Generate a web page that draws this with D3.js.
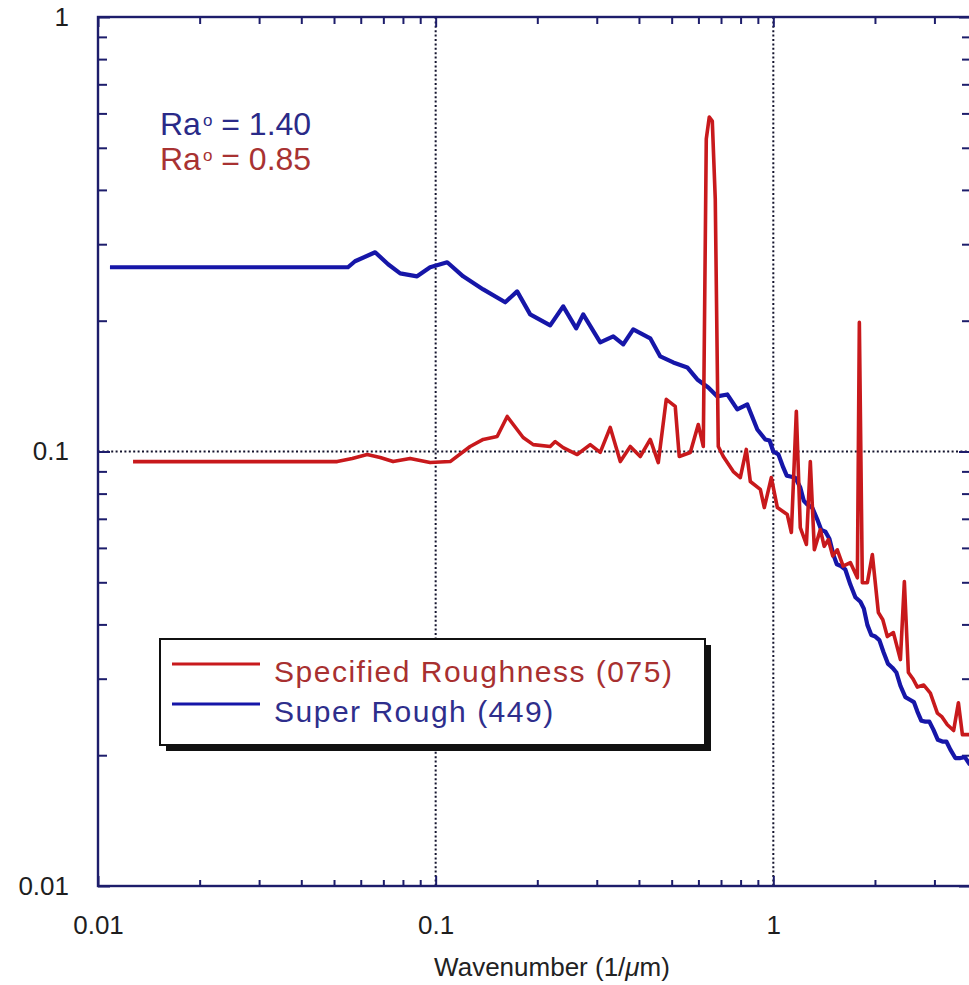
<!DOCTYPE html>
<html>
<head>
<meta charset="utf-8">
<script src="https://cdn.jsdelivr.net/npm/d3@7"></script>
<style>
  html, body { margin: 0; padding: 0; background: #fff; }
  svg { display: block; font-family: "Liberation Sans", Arial, Helvetica, sans-serif; }
</style>
</head>
<body>
<div id="chart"></div>
<script>
// [wavenumber (1/um), amplitude]
const superRough = [
  [0.01085, 0.2655], [0.0550, 0.2655], [0.0577, 0.2741], [0.0662, 0.2874], [0.0723, 0.2698],
  [0.0785, 0.2571], [0.0881, 0.2530], [0.0963, 0.2655], [0.1082, 0.2726], [0.1206, 0.2530],
  [0.1383, 0.2361], [0.1607, 0.2205], [0.1743, 0.2336], [0.1905, 0.2068], [0.2184, 0.1951],
  [0.2386, 0.2158], [0.2608, 0.1920], [0.2735, 0.2068], [0.3072, 0.1783], [0.3357, 0.1841],
  [0.3594, 0.1764], [0.3847, 0.1910], [0.4320, 0.1822], [0.4626, 0.1655], [0.5054, 0.1603],
  [0.5562, 0.1561], [0.5955, 0.1465], [0.6418, 0.1404], [0.6824, 0.1339], [0.7306, 0.1353],
  [0.7822, 0.1250], [0.8375, 0.1283], [0.8967, 0.1124], [0.9469, 0.1066], [0.975, 0.1060],
  [1.0, 0.1], [1.035, 0.0985], [1.070, 0.0919], [1.096, 0.0880], [1.123, 0.0876],
  [1.162, 0.0870], [1.202, 0.0826], [1.231, 0.0770], [1.261, 0.0755], [1.305, 0.0742],
  [1.350, 0.0697], [1.387, 0.0660], [1.426, 0.0654], [1.466, 0.0630], [1.506, 0.0579],
  [1.542, 0.0550], [1.579, 0.0546], [1.634, 0.0535], [1.691, 0.0494], [1.750, 0.0462],
  [1.811, 0.0451], [1.854, 0.0435], [1.899, 0.0399], [1.951, 0.0378], [2.005, 0.0375],
  [2.061, 0.0368], [2.118, 0.0346], [2.184, 0.0325], [2.252, 0.0318], [2.315, 0.0310],
  [2.379, 0.0289], [2.461, 0.0272], [2.546, 0.0268], [2.608, 0.0265], [2.671, 0.0252],
  [2.745, 0.0240], [2.820, 0.0239], [2.898, 0.0239], [2.979, 0.0229], [3.071, 0.0217],
  [3.167, 0.0215], [3.255, 0.0215], [3.345, 0.0206], [3.460, 0.0197], [3.582, 0.0197],
  [3.692, 0.0198], [3.808, 0.0191], [4.105, 0.0185]
];

const specifiedRoughness = [
  [0.0127, 0.0948], [0.0511, 0.0948], [0.0566, 0.0964], [0.0627, 0.0984], [0.0685, 0.0969],
  [0.0748, 0.0948], [0.0840, 0.0964], [0.0963, 0.0943], [0.1104, 0.0948], [0.1265, 0.1027],
  [0.1383, 0.1066], [0.1521, 0.1083], [0.1629, 0.1204], [0.1816, 0.1077], [0.1945, 0.1037],
  [0.2184, 0.1027], [0.2260, 0.1054], [0.2386, 0.1021], [0.2626, 0.0984], [0.2869, 0.1037],
  [0.3072, 0.0995], [0.3289, 0.1136], [0.3522, 0.0948], [0.3770, 0.1027], [0.4036, 0.0974],
  [0.4320, 0.1066], [0.4564, 0.0943], [0.4819, 0.1318], [0.5123, 0.1270], [0.5265, 0.0974],
  [0.5677, 0.0995], [0.5995, 0.1154], [0.6203, 0.1027], [0.6331, 0.5236], [0.6462, 0.5885],
  [0.6596, 0.5760], [0.6731, 0.3808], [0.6871, 0.1027], [0.7110, 0.0974], [0.7612, 0.0899],
  [0.7984, 0.0871], [0.8318, 0.1011], [0.8548, 0.0853], [0.9152, 0.0818], [0.9404, 0.0743],
  [0.9865, 0.0871], [1.028, 0.0743], [1.100, 0.0716], [1.131, 0.0651], [1.170, 0.1237],
  [1.202, 0.0668], [1.253, 0.0611], [1.287, 0.0948], [1.323, 0.0594], [1.378, 0.0661],
  [1.415, 0.0605], [1.455, 0.0627], [1.500, 0.0575], [1.547, 0.0594], [1.610, 0.0545],
  [1.691, 0.0555], [1.774, 0.0512], [1.798, 0.1982], [1.835, 0.0499], [1.899, 0.0499],
  [1.965, 0.0579], [2.047, 0.0426], [2.110, 0.0410], [2.176, 0.0375], [2.268, 0.0383],
  [2.379, 0.0332], [2.444, 0.0502], [2.512, 0.0310], [2.590, 0.0300], [2.671, 0.0287],
  [2.790, 0.0290], [2.918, 0.0278], [3.061, 0.0250], [3.160, 0.0245], [3.277, 0.0235],
  [3.420, 0.0228], [3.533, 0.0264], [3.631, 0.0223], [3.808, 0.0223], [4.105, 0.0217]
];

const xMajorTicks = [0.01, 0.1, 1];
const xTickLabels = ['0.01', '0.1', '1'];
const yMajorTicks = [0.01, 0.1, 1];
const yTickLabels = ['0.01', '0.1', '1'];
const gridX = [0.1, 1];
const gridY = [0.1];

const legendLabels = ['Specified Roughness (075)', 'Super Rough (449)'];
const raValues = ['1.40', '0.85'];

const BLUE = '#1616a8';
const RED = '#c8191c';
const NAVY = '#1d1d6b';

class SpectrumChart {
  constructor(parent) {
    this.parent = parent;
    this.width = 969;
    this.height = 985;
    this.plot = { left: 98, right: 971, top: 17, bottom: 886 };
    this.initVis();
  }

  initVis() {
    const vis = this;
    const p = vis.plot;

    vis.svg = d3.select(vis.parent).append('svg')
      .attr('width', vis.width)
      .attr('height', vis.height);

    vis.svg.append('rect')
      .attr('width', vis.width).attr('height', vis.height)
      .attr('fill', '#fff');

    vis.x = d3.scaleLog().domain([0.01, 3.85]).range([p.left, p.right]);
    vis.y = d3.scaleLog().domain([0.01, 1]).range([p.bottom, p.top]);

    vis.svg.append('clipPath').attr('id', 'plot-clip')
      .append('rect')
      .attr('x', p.left).attr('y', p.top)
      .attr('width', p.right - p.left).attr('height', p.bottom - p.top);

    vis.renderVis();
  }

  renderVis() {
    const vis = this;
    const p = vis.plot;
    const x = vis.x, y = vis.y;

    // dotted grid lines
    const grid = vis.svg.append('g')
      .attr('stroke', '#14142e')
      .attr('stroke-width', 2)
      .attr('stroke-dasharray', '2,2.4');
    grid.selectAll('.gx').data(gridX).join('line')
      .attr('x1', d => x(d)).attr('x2', d => x(d))
      .attr('y1', p.top).attr('y2', p.bottom);
    grid.selectAll('.gy').data(gridY).join('line')
      .attr('y1', d => y(d)).attr('y2', d => y(d))
      .attr('x1', p.left).attr('x2', p.right);

    // axes: minor and major ticks, pointing inward
    const xMinor = x.ticks().filter(d => !xMajorTicks.includes(d));
    const yMinor = y.ticks().filter(d => !yMajorTicks.includes(+d.toPrecision(3)));

    const styleAxis = g => {
      g.select('.domain').remove();
      g.selectAll('.tick line').attr('stroke', NAVY).attr('stroke-width', 2);
      g.selectAll('.tick text')
        .attr('font-family', '"Liberation Sans", Arial, sans-serif')
        .attr('font-size', 26)
        .attr('fill', '#1e1e1e');
    };

    vis.svg.append('g').attr('transform', `translate(0,${p.bottom})`)
      .call(d3.axisBottom(x).tickValues(xMinor).tickSize(-6).tickFormat(''))
      .call(styleAxis);
    vis.svg.append('g').attr('transform', `translate(0,${p.bottom})`)
      .call(d3.axisBottom(x).tickValues(xMajorTicks).tickSize(-10).tickPadding(30)
        .tickFormat((d, i) => xTickLabels[i]))
      .call(styleAxis);

    vis.svg.append('g').attr('transform', `translate(0,${p.top})`)
      .call(d3.axisTop(x).tickValues(xMinor).tickSize(-7).tickFormat(''))
      .call(styleAxis);
    vis.svg.append('g').attr('transform', `translate(0,${p.top})`)
      .call(d3.axisTop(x).tickValues(xMajorTicks).tickSize(-10).tickFormat(''))
      .call(styleAxis);

    vis.svg.append('g').attr('transform', `translate(${p.left},0)`)
      .call(d3.axisLeft(y).tickValues(yMinor).tickSize(-9).tickFormat(''))
      .call(styleAxis);
    vis.svg.append('g').attr('transform', `translate(${p.left},0)`)
      .call(d3.axisLeft(y).tickValues(yMajorTicks).tickSize(-12).tickPadding(29)
        .tickFormat((d, i) => yTickLabels[i]))
      .call(styleAxis);

    vis.svg.append('g').attr('transform', `translate(${p.right},0)`)
      .call(d3.axisRight(y).tickValues(yMinor).tickSize(-9).tickFormat(''))
      .call(styleAxis);
    vis.svg.append('g').attr('transform', `translate(${p.right},0)`)
      .call(d3.axisRight(y).tickValues(yMajorTicks).tickSize(-12).tickFormat(''))
      .call(styleAxis);

    // frame
    vis.svg.append('rect')
      .attr('x', p.left).attr('y', p.top)
      .attr('width', p.right - p.left).attr('height', p.bottom - p.top)
      .attr('fill', 'none')
      .attr('stroke', NAVY)
      .attr('stroke-width', 2.4);

    // series
    const line = d3.line().x(d => x(d[0])).y(d => y(d[1]));
    const series = vis.svg.append('g').attr('clip-path', 'url(#plot-clip)');
    series.append('path')
      .datum(superRough)
      .attr('d', line)
      .attr('fill', 'none')
      .attr('stroke', BLUE)
      .attr('stroke-width', 4.2)
      .attr('stroke-linejoin', 'round');
    series.append('path')
      .datum(specifiedRoughness)
      .attr('d', line)
      .attr('fill', 'none')
      .attr('stroke', RED)
      .attr('stroke-width', 3.6)
      .attr('stroke-linejoin', 'round');

    // Ra annotations
    const raColors = ['#2a2a88', '#a83232'];
    const raY = [135, 170];
    raValues.forEach((v, i) => {
      const t = vis.svg.append('text')
        .attr('x', 160).attr('y', raY[i])
        .attr('font-size', 32)
        .attr('fill', raColors[i]);
      t.append('tspan').text('Ra');
      t.append('tspan').attr('font-size', 17).attr('dy', -9).attr('dx', 2).text('o');
      t.append('tspan').attr('dy', 9).text(` = ${v}`);
    });

    // x axis title
    const title = vis.svg.append('text')
      .attr('x', 552).attr('y', 976)
      .attr('text-anchor', 'middle')
      .attr('font-size', 26)
      .attr('fill', '#222');
    title.append('tspan').text('Wavenumber (1/');
    title.append('tspan').attr('font-style', 'italic').text('\u03bc');
    title.append('tspan').text('m)');

    vis.drawLegend();
  }

  drawLegend() {
    const vis = this;
    const box = { x: 160, y: 639, w: 545, h: 106, shadow: 6 };

    const g = vis.svg.append('g').attr('class', 'legend');
    g.append('rect')
      .attr('x', box.x + box.shadow).attr('y', box.y + box.shadow)
      .attr('width', box.w).attr('height', box.h)
      .attr('fill', '#111');
    g.append('rect')
      .attr('x', box.x).attr('y', box.y)
      .attr('width', box.w).attr('height', box.h)
      .attr('fill', '#fff')
      .attr('stroke', '#111')
      .attr('stroke-width', 2);

    const items = [
      { label: legendLabels[0], stroke: RED, text: '#a83030' },
      { label: legendLabels[1], stroke: BLUE, text: '#2e2e8c' }
    ];
    const rowY = [664, 704];

    items.forEach((d, i) => {
      g.append('line')
        .attr('x1', 172).attr('x2', 260)
        .attr('y1', rowY[i]).attr('y2', rowY[i])
        .attr('stroke', d.stroke)
        .attr('stroke-width', 3);
      g.append('text')
        .attr('x', 274).attr('y', rowY[i] + 18)
        .attr('font-size', 30)
        .attr('letter-spacing', '1.5px')
        .attr('fill', d.text)
        .text(d.label);
    });
  }
}

new SpectrumChart('#chart');
</script>
</body>
</html>
